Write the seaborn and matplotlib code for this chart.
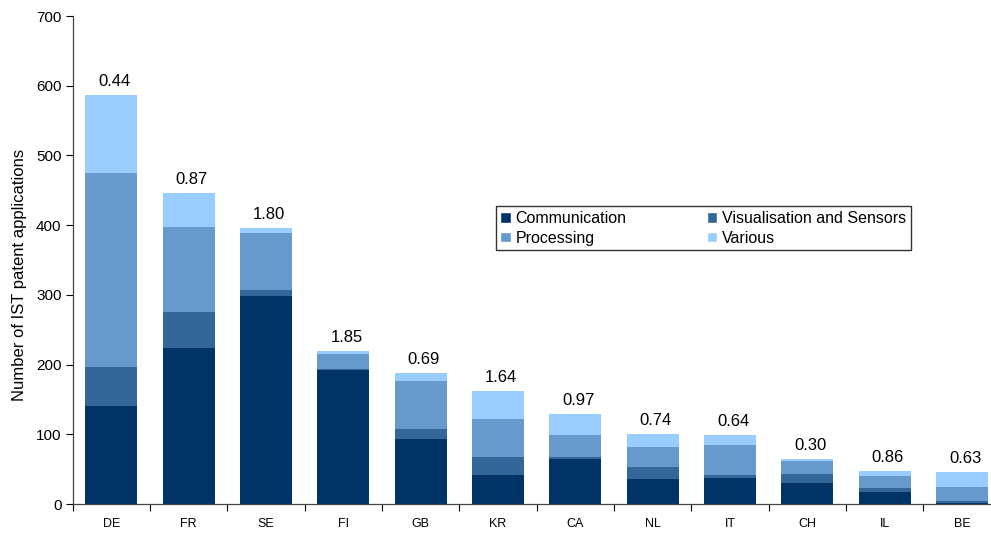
import numpy as np
import pandas as pd
import matplotlib
matplotlib.use("Agg")
import matplotlib.pyplot as plt
import seaborn as sns
from matplotlib.patches import Patch

countries = ["DE", "FR", "SE", "FI", "GB", "KR", "CA", "NL", "IT", "CH", "IL", "BE"]
communication = [141, 224, 298, 192, 93, 42, 65, 36, 37, 30, 17, 1]
visualisation = [56, 51, 9, 2, 14, 26, 3, 17, 4, 13, 6, 3]
processing = [278, 122, 82, 21, 69, 54, 31, 29, 43, 19, 17, 20]
various = [112, 49, 7, 5, 12, 40, 30, 18, 15, 3, 7, 22]
ratios = ["0.44", "0.87", "1.80", "1.85", "0.69", "1.64", "0.97", "0.74", "0.64", "0.30", "0.86", "0.63"]

series = ["Communication", "Visualisation and Sensors", "Processing", "Various"]
colors = ["#003366", "#336699", "#6699CC", "#99CCFF"]

sns.set_style("white")
plt.rcParams["font.family"] = ["Liberation Sans", "DejaVu Sans"]
plt.rcParams["text.color"] = "black"
plt.rcParams["xtick.color"] = "black"
plt.rcParams["ytick.color"] = "black"
plt.rcParams["axes.labelcolor"] = "black"

df = pd.DataFrame({"country": countries,
                   "Communication": communication,
                   "Visualisation and Sensors": visualisation,
                   "Processing": processing,
                   "Various": various})
cum = df[series].cumsum(axis=1)

fig = plt.figure(figsize=(9.91, 5.33), dpi=100)
# axes runs past the right edge of the figure, as in the original
ax = fig.add_axes([72.7 / 991, 29 / 533, 928 / 991, 488 / 533])

# draw cumulative totals from the top down so each layer covers the one above
for name, col in zip(series[::-1], colors[::-1]):
    sns.barplot(x=df["country"], y=cum[name], color=col, width=0.67,
                saturation=1, ax=ax, linewidth=0, order=countries)

totals = cum["Various"].values
for i, (t, r) in enumerate(zip(totals, ratios)):
    ax.text(i + 0.04, t + 13, r, ha="center", va="baseline", fontsize=12)

ax.set_ylim(0, 700)
ax.set_xlim(-0.5, 11.5)
ax.set_yticks(range(0, 701, 100))
ax.set_xticks(np.arange(-0.5, 12, 1), minor=True)
ax.set_xticks(range(12))
ax.set_xticklabels(countries)
ax.tick_params(axis="x", which="major", length=0, labelsize=9, pad=10)
ax.tick_params(axis="x", which="minor", length=5, width=0.8, direction="out", bottom=True)
ax.tick_params(axis="y", length=5, width=0.8, direction="out", left=True, labelsize=11, pad=3)
ax.set_xlabel("")
ax.set_ylabel("Number of IST patent applications", fontsize=12)
ax.yaxis.set_label_coords(-0.049, 0.47)
for s in ["top", "right"]:
    ax.spines[s].set_visible(False)
for s in ["left", "bottom"]:
    ax.spines[s].set_color("#444444")
    ax.spines[s].set_linewidth(0.9)

order = [0, 2, 1, 3]
handles = [Patch(facecolor=colors[k], label=series[k]) for k in order]
leg = ax.legend(handles=handles, ncol=2, loc="upper left",
                bbox_to_anchor=(423 / 928, (504 - 206) / 488),
                frameon=True, fancybox=False, fontsize=11.5,
                handlelength=0.65, handleheight=0.65, handletextpad=0.3,
                columnspacing=5.0, borderpad=0.3, labelspacing=0.3,
                borderaxespad=0)
leg.get_frame().set_edgecolor("black")
leg.get_frame().set_linewidth(1.0)

fig.savefig("out.png", dpi=100)
